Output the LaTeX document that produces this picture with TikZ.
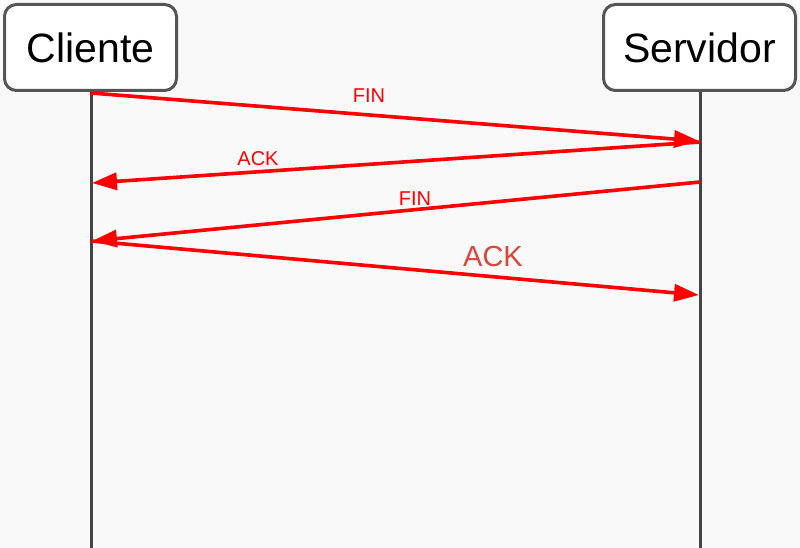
\documentclass[tikz,border=0pt]{standalone}
\usepackage{fontspec}
\setmainfont{Liberation Sans}
\usetikzlibrary{arrows.meta}
\definecolor{bg}{HTML}{F9F9F9}
\definecolor{boxline}{HTML}{555555}
\definecolor{lifeline}{HTML}{444444}
\definecolor{ackred}{HTML}{D9463B}
\tikzset{
  actor/.style={draw=boxline, line width=3pt, fill=white, rounded corners=12pt,
    minimum width=#1, minimum height=86pt, inner sep=0pt, font=\fontsize{41}{45}\selectfont},
  life/.style={draw=lifeline, line width=3pt},
  msg/.style={draw=red, line width=3.6pt, -{Triangle[length=25pt,width=17pt]}},
  lbl/.style={text=red, inner sep=0pt, font=\fontsize{20}{22}\selectfont},
  biglbl/.style={text=ackred, inner sep=0pt, font=\fontsize{29}{32}\selectfont}
}
\begin{document}
\begin{tikzpicture}[x=1pt,y=-1pt]
\fill[bg] (0,0) rectangle (800,548);
\useasboundingbox (0,0) rectangle (800,548);
\node[actor=172pt] (cli) at (90.5,47.5) {Cliente};
\node[actor=192pt] (srv) at (699.5,47.5) {Servidor};
% lifelines
\coordinate (cb) at (91,548);
\coordinate (sb) at (700,548);
\draw[life] (cli.south -| cb) -- (cb);
\draw[life] (srv.south -| sb) -- (sb);
% message points
\coordinate (c1) at (91,93);
\coordinate (s1) at (699,141);
\coordinate (s2) at (700,142);
\coordinate (c2) at (92,183);
\coordinate (s3) at (700,182);
\coordinate (c3) at (92,241);
\coordinate (c4) at (91,241);
\coordinate (s4) at (699,295);
\draw[msg] (c1) -- (s1);
\draw[msg] (s2) -- (c2);
\draw[msg] (s3) -- (c3);
\draw[msg] (c4) -- (s4);
% labels
\node[lbl] (l1) at (369,96) {FIN};
\node[lbl] (l2) at (258,159) {ACK};
\node[lbl] (l3) at (415,199) {FIN};
\node[biglbl] (l4) at (493,257) {ACK};
\end{tikzpicture}
\end{document}
